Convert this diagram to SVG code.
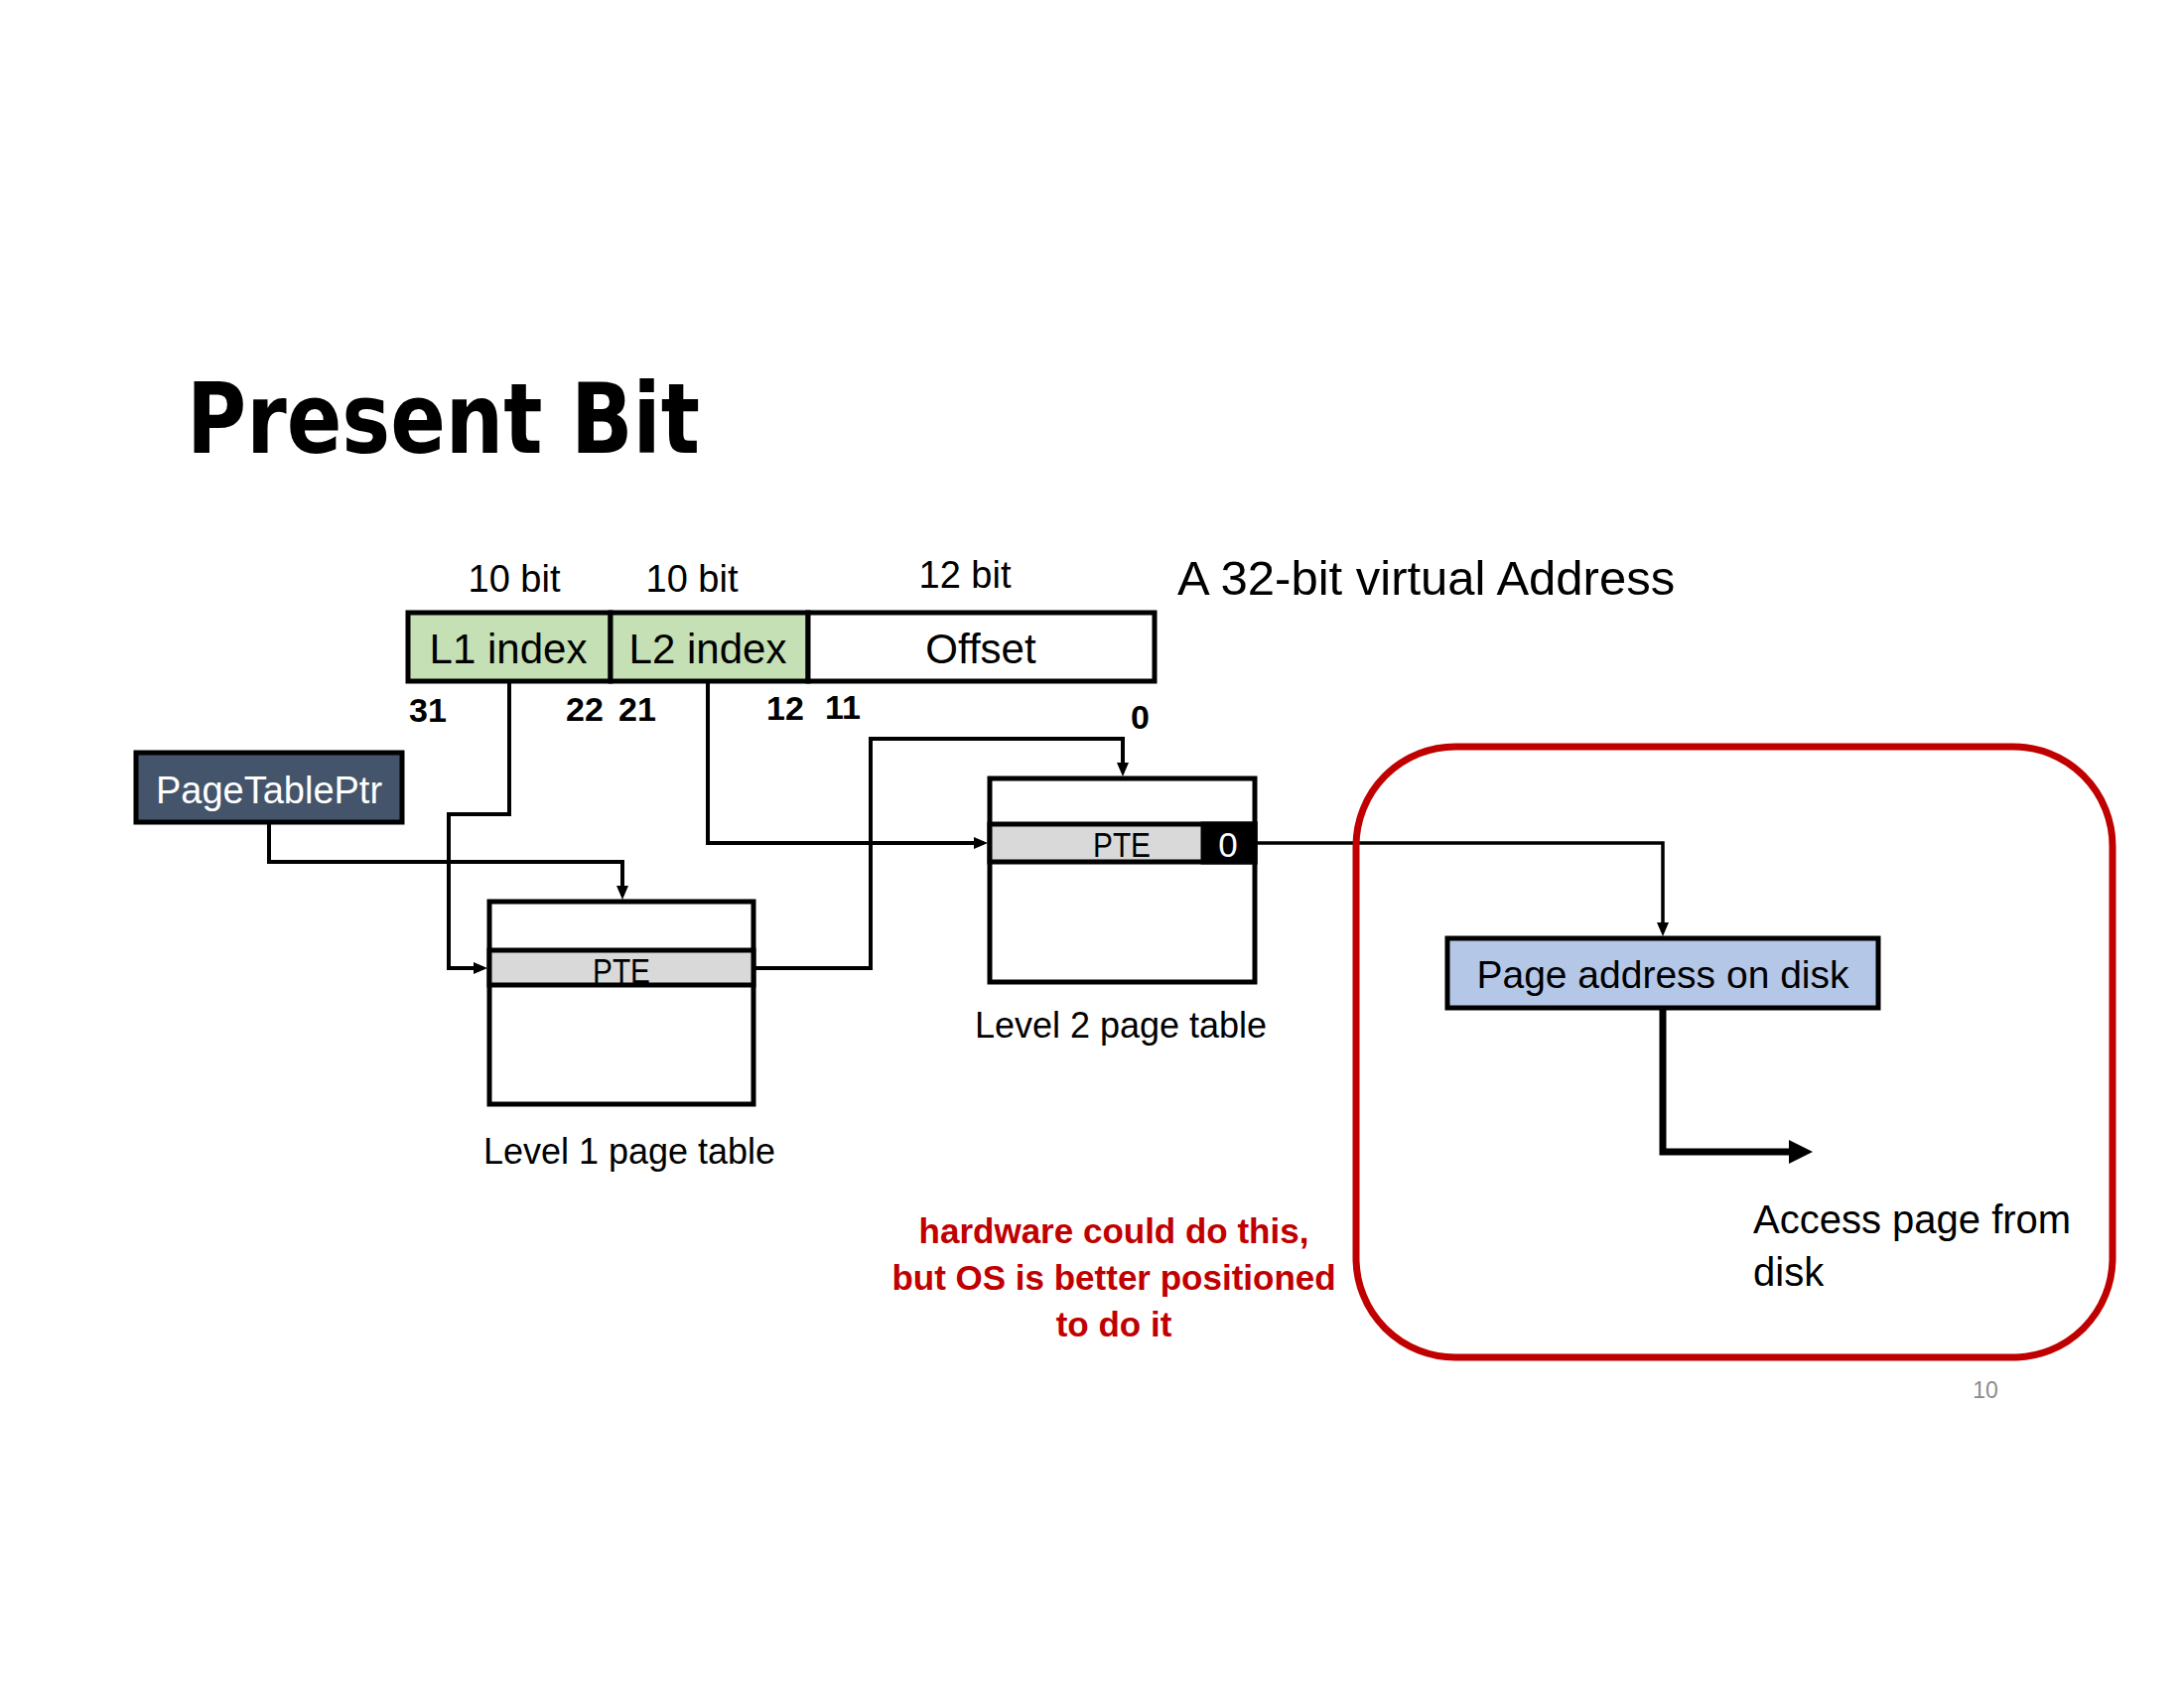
<svg xmlns="http://www.w3.org/2000/svg" width="2200" height="1700" viewBox="0 0 2200 1700">
<style>
  .t { font-family: "Liberation Sans", Arial, sans-serif; fill: #000; }
  .c { text-anchor: middle; }
  .bitn { font-family: "Liberation Sans", Arial, sans-serif; font-weight: bold; font-size: 34px; fill: #000; }
  .box { stroke: #000; stroke-width: 5; }
  .conn { fill: none; stroke: #000; stroke-width: 4; stroke-linejoin: miter; }
  .thin { stroke-width: 3.5; }
  .thick { stroke-width: 7; }
  .red { font-family: "Liberation Sans", Arial, sans-serif; font-weight: bold; font-size: 35px; fill: #C00000; text-anchor: middle; }
</style>
<defs>
  <marker id="arr" viewBox="0 0 14 12" refX="10" refY="6" markerWidth="14" markerHeight="12" markerUnits="userSpaceOnUse" orient="auto">
    <path d="M0,0 L14,6 L0,12 z" fill="#000"/>
  </marker>
  <marker id="arrBig" viewBox="0 0 24 24" refX="4" refY="12" markerWidth="24" markerHeight="24" markerUnits="userSpaceOnUse" orient="auto">
    <path d="M0,0 L24,12 L0,24 z" fill="#000"/>
  </marker>
</defs>
<rect width="2200" height="1700" fill="#fff"/>

<text id="title" x="188" y="456" font-family="'DejaVu Sans', sans-serif" font-weight="bold" font-size="98" textLength="517" lengthAdjust="spacingAndGlyphs" fill="#000">Present Bit</text>

<g id="address">
  <rect x="411" y="617" width="204" height="69" fill="#C5E0B4" class="box"/>
  <rect x="615" y="617" width="199" height="69" fill="#C5E0B4" class="box"/>
  <rect x="814" y="617" width="349" height="69" fill="#fff" class="box"/>
  <text class="t c" x="512" y="668" font-size="42">L1 index</text>
  <text class="t c" x="713" y="668" font-size="42">L2 index</text>
  <text class="t c" x="988" y="668" font-size="42">Offset</text>
  <text class="t c" x="518" y="596" font-size="38">10 bit</text>
  <text class="t c" x="697" y="596" font-size="38">10 bit</text>
  <text class="t c" x="972" y="592" font-size="38">12 bit</text>
  <text class="t" x="1186" y="599" font-size="49">A 32-bit virtual Address</text>
  <text class="bitn" x="412" y="727">31</text>
  <text class="bitn" x="570" y="726">22</text>
  <text class="bitn" x="623" y="726">21</text>
  <text class="bitn" x="772" y="725">12</text>
  <text class="bitn" x="831" y="724">11</text>
  <text class="bitn" x="1139" y="734">0</text>
</g>

<g id="pagetableptr">
  <rect x="137" y="758" width="268" height="70" fill="#44546A" class="box"/>
  <text class="t c" x="271" y="809" font-size="38" style="fill:#fff">PageTablePtr</text>
</g>

<g id="level1">
  <rect x="493" y="908" width="266" height="204" fill="#fff" class="box"/>
  <rect x="493" y="957" width="266" height="35" fill="#D9D9D9" class="box"/>
  <text class="t c" x="626" y="990" font-size="35" textLength="58" lengthAdjust="spacingAndGlyphs">PTE</text>
  <text class="t c" x="634" y="1172" font-size="36">Level 1 page table</text>
</g>

<g id="level2">
  <rect x="997" y="784" width="267" height="205" fill="#fff" class="box"/>
  <rect x="997" y="830" width="267" height="38" fill="#D9D9D9" class="box"/>
  <rect x="1212" y="830" width="52" height="38" fill="#000" class="box"/>
  <text class="t c" x="1130" y="863" font-size="35" textLength="58" lengthAdjust="spacingAndGlyphs">PTE</text>
  <text class="t c" x="1237" y="863" font-size="35" style="fill:#fff">0</text>
  <text class="t c" x="1129" y="1045" font-size="36">Level 2 page table</text>
</g>

<g id="diskaddr">
  <rect x="1458" y="945" width="434" height="70" fill="#B4C7E7" class="box"/>
  <text class="t c" x="1675" y="995" font-size="39">Page address on disk</text>
</g>

<g id="connectors">
  <polyline class="conn" points="271,830 271,868 627,868 627,902" marker-end="url(#arr)"/>
  <polyline class="conn" points="513,688 513,820 452,820 452,975 487,975" marker-end="url(#arr)"/>
  <polyline class="conn" points="761,975 877,975 877,744 1131,744 1131,778" marker-end="url(#arr)"/>
  <polyline class="conn" points="713,688 713,849 991,849" marker-end="url(#arr)"/>
  <polyline class="conn thin" points="1266,849 1675,849 1675,939" marker-end="url(#arr)"/>
  <polyline class="conn thick" points="1675,1017 1675,1160 1806,1160" marker-end="url(#arrBig)"/>
</g>

<g id="osframe">
  <rect x="1366" y="752" width="762" height="615" rx="100" ry="100" fill="none" stroke="#C00000" stroke-width="7"/>
</g>

<g id="access">
  <text class="t" x="1766" y="1242" font-size="40">Access page from</text>
  <text class="t" x="1766" y="1295" font-size="40">disk</text>
</g>

<g id="note">
  <text class="red" x="1122" y="1252">hardware could do this,</text>
  <text class="red" x="1122" y="1299">but OS is better positioned</text>
  <text class="red" x="1122" y="1346">to do it</text>
</g>

<text id="pagenum" x="2000" y="1408" font-family="'Liberation Sans', sans-serif" font-size="23" fill="#8C8C8C" text-anchor="middle">10</text>
</svg>
